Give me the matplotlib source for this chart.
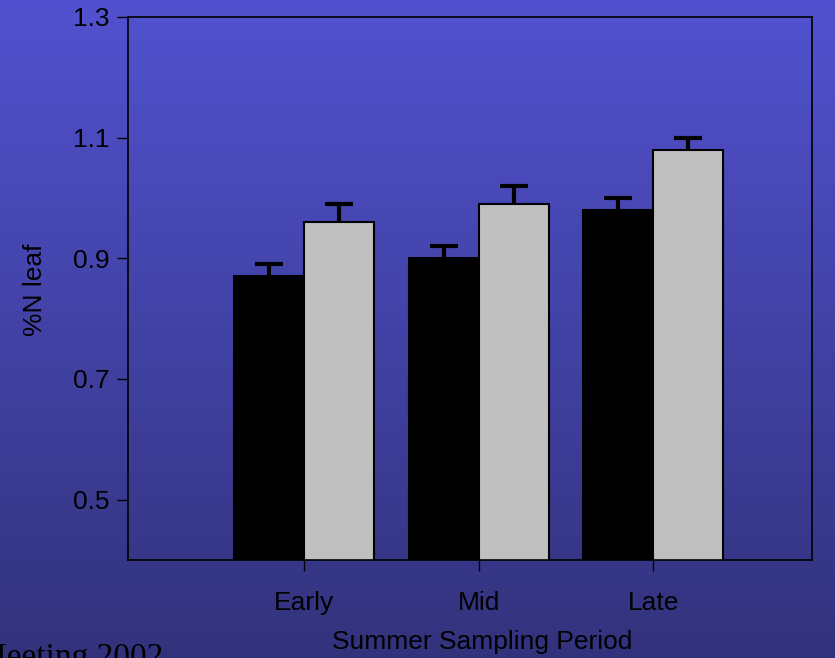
import matplotlib
matplotlib.use('Agg')
import matplotlib.pyplot as plt
import numpy as np

matplotlib.rcParams.update({
    'font.family': 'Liberation Sans',
    'font.size': 19,
})

periods = ['Early', 'Mid', 'Late']
black_vals = [0.87, 0.90, 0.98]
black_err = [0.02, 0.02, 0.02]
grey_vals = [0.96, 0.99, 1.08]
grey_err = [0.03, 0.03, 0.02]
yticks = [0.5, 0.7, 0.9, 1.1, 1.3]

fig = plt.figure(figsize=(8.35, 6.58), dpi=100)

# gradient background over whole figure
bg = fig.add_axes([0, 0, 1, 1], zorder=0)
top = np.array([82, 82, 208]) / 255
bot = np.array([50, 50, 124]) / 255
t = np.linspace(0, 1, 256)[:, None]
grad = top[None, :] * (1 - t) + bot[None, :] * t
bg.imshow(grad[:, None, :], aspect='auto', extent=[0, 1, 0, 1])
bg.axis('off')

ax = fig.add_axes([128 / 835, 1 - 560 / 658, 684 / 835, 543 / 658], zorder=1)
ax.patch.set_alpha(0)

x = np.arange(len(periods))
w = 0.4
for pos, vals, err, col in [(x - w / 2, black_vals, black_err, 'black'),
                            (x + w / 2, grey_vals, grey_err, '#c0c0c0')]:
    vals = np.array(vals)
    err = np.array(err)
    ax.bar(pos, vals, w, color=col, edgecolor='black', linewidth=1.5, zorder=2)
    # upper error bar only, single cap at the top
    ax.errorbar(pos, vals, yerr=[np.zeros_like(err), err], fmt='none',
                ecolor='black', elinewidth=3, capsize=0, zorder=3)
    ax.plot(pos, vals + err, linestyle='none', marker='_', markersize=20,
            markeredgewidth=3, color='black', zorder=3)

ax.set_xlim(-1.01, 2.91)
ax.set_ylim(0.4, 1.3)
ax.set_yticks(yticks)
ax.set_yticklabels([f'{v:.1f}' for v in yticks])
ax.set_xticks(x)
ax.set_xticklabels(periods)
ax.tick_params(axis='both', direction='out', length=8, width=1, colors='black')
ax.tick_params(axis='y', pad=5)
ax.tick_params(axis='x', pad=14)
for s in ax.spines.values():
    s.set_linewidth(1.2)

fig.text(35 / 835, 1 - 290 / 658, '%N leaf', rotation=90, ha='center', va='center', fontsize=19)
fig.text(482 / 835, 1 - 642 / 658, 'Summer Sampling Period', ha='center', va='center', fontsize=19)
fig.text(163 / 835, 1 - 666 / 658, 'Meeting 2002', ha='right', va='baseline',
         fontsize=24, family='Liberation Serif')

fig.savefig('out.png', dpi=100)
